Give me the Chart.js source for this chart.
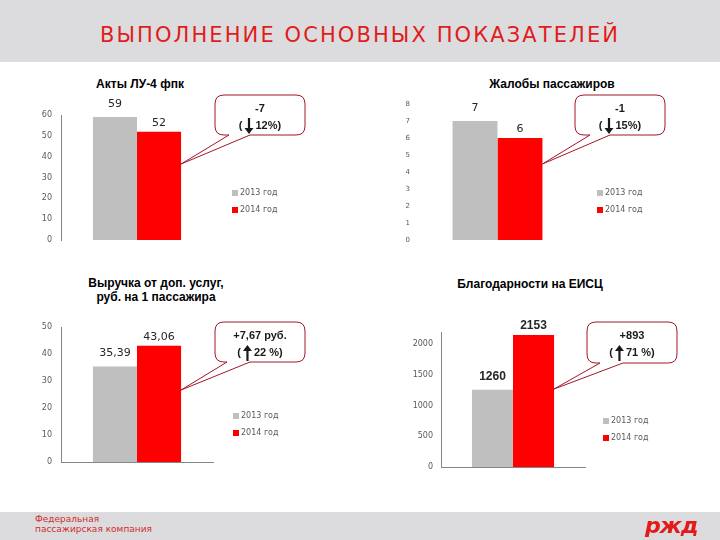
<!DOCTYPE html>
<html lang="ru">
<head>
<meta charset="utf-8">
<title>Выполнение основных показателей</title>
<script src="https://cdn.jsdelivr.net/npm/chart.js@4.4.1/dist/chart.umd.min.js"></script>
<style>
  html, body { margin: 0; padding: 0; }
  body { width: 720px; height: 540px; position: relative; overflow: hidden; background: #fff; font-family: 'DejaVu Sans', sans-serif; }
  .head { position: absolute; left: 0; top: 0; width: 720px; height: 62px; background: #dcdcde; }
  .head h1 { margin: 0; position: absolute; left: 0; width: 720px; top: 23px; text-align: center; font-weight: normal; font-size: 21px; letter-spacing: 2.1px; color: #e01c1c; }
  .foot { position: absolute; left: 0; top: 512px; width: 720px; height: 28px; background: #dcdcde; }
  .foot .org { position: absolute; left: 35px; top: 2px; font-size: 9px; line-height: 10px; color: #d42b2b; }
  .foot .logo { position: absolute; left: 645px; top: 1px; font-size: 22px; font-weight: bold; font-style: italic; color: #e21a1a; letter-spacing: -1px; }
  .cell { position: absolute; }
  .ttl { position: absolute; width: 240px; margin-left: -120px; text-align: center; font: bold 12px/14px 'Liberation Sans', Arial, sans-serif; color: #000; }
  .lgd { position: absolute; font-size: 8px; color: #595959; }
  .lgd div { height: 17px; display: flex; align-items: center; white-space: nowrap; }
  .lgd span { display: inline-block; width: 6px; height: 6px; margin-right: 2px; }
</style>
</head>
<body>
<div class="head"><h1>ВЫПОЛНЕНИЕ ОСНОВНЫХ ПОКАЗАТЕЛЕЙ</h1></div>

<div class="ttl" id="t1" style="left:140px;top:77px"></div>
<div class="ttl" id="t2" style="left:552px;top:77px"></div>
<div class="ttl" id="t3" style="left:156px;top:276px"></div>
<div class="ttl" id="t4" style="left:530px;top:277px"></div>

<div class="cell" style="left:0;top:90px"><canvas id="c1" width="320" height="170"></canvas></div>
<div class="cell" style="left:360px;top:90px"><canvas id="c2" width="340" height="170"></canvas></div>
<div class="cell" style="left:0;top:300px"><canvas id="c3" width="320" height="180"></canvas></div>
<div class="cell" style="left:360px;top:300px"><canvas id="c4" width="340" height="180"></canvas></div>

<div class="lgd" id="l1" style="left:232px;top:184px"></div>
<div class="lgd" id="l2" style="left:597px;top:184px"></div>
<div class="lgd" id="l3" style="left:233px;top:407px"></div>
<div class="lgd" id="l4" style="left:603px;top:412px"></div>

<div class="foot">
  <div class="org">Федеральная<br>пассажирская компания</div>
  <div class="logo">ржд</div>
</div>

<script>
// данные
const years = ['2013 год', '2014 год'];

const aktyTitle = ['Акты ЛУ-4 фпк'];
const aktyValues = [59, 52];
const aktyTicks = [0, 10, 20, 30, 40, 50, 60];

const zhalobyTitle = ['Жалобы пассажиров'];
const zhalobyValues = [7, 6];
const zhalobyTicks = [0, 1, 2, 3, 4, 5, 6, 7, 8];

const vyruchkaTitle = ['Выручка от доп. услуг,', 'руб. на 1 пассажира'];
const vyruchkaValues = [35.39, 43.06];
const vyruchkaTicks = [0, 10, 20, 30, 40, 50];

const blagTitle = ['Благодарности на ЕИСЦ'];
const blagValues = [1260, 2153];
const blagTicks = [0, 500, 1000, 1500, 2000];

// подписи в выносках
const aktyNote = ['-7', '(', 'down', '12%)'];
const zhalobyNote = ['-1', '(', 'down', '15%)'];
const vyruchkaNote = ['+7,67 руб.', '(', 'up', '22 %)'];
const blagNote = ['+893', '(', 'up', '71 %)'];

const colors = ['#bfbfbf', '#ff0000'];

// подписи значений над столбцами
const valueLabels = {
  id: 'valueLabels',
  afterDatasetsDraw(chart, args, opts) {
    const ctx = chart.ctx;
    ctx.save();
    ctx.font = opts.font;
    ctx.fillStyle = '#262626';
    ctx.textAlign = 'center';
    ctx.textBaseline = 'middle';
    chart.data.datasets.forEach((ds, i) => {
      const el = chart.getDatasetMeta(i).data[0];
      ctx.fillText(opts.format(ds.data[0]), el.x, el.y - opts.offsets[i]);
    });
    ctx.restore();
  },
};

// выноска с изменением
const callout = {
  id: 'callout',
  afterDraw(chart, args, o) {
    const ctx = chart.ctx;
    const red = chart.getDatasetMeta(1).data[0];
    const tipX = red.x + red.width / 2;
    const { x, y, w, h } = o;
    const r = 9;
    ctx.save();
    ctx.beginPath();
    ctx.moveTo(x + r, y);
    ctx.lineTo(x + w - r, y);
    ctx.quadraticCurveTo(x + w, y, x + w, y + r);
    ctx.lineTo(x + w, y + h - r);
    ctx.quadraticCurveTo(x + w, y + h, x + w - r, y + h);
    ctx.lineTo(o.tail[1], y + h);
    ctx.lineTo(tipX, o.tipY);
    ctx.lineTo(o.tail[0], y + h);
    ctx.lineTo(x + r, y + h);
    ctx.quadraticCurveTo(x, y + h, x, y + h - r);
    ctx.lineTo(x, y + r);
    ctx.quadraticCurveTo(x, y, x + r, y);
    ctx.closePath();
    ctx.fillStyle = '#fff';
    ctx.fill();
    ctx.lineWidth = 1;
    ctx.strokeStyle = '#a3162a';
    ctx.stroke();

    const [line1, pre, dir, post] = o.text;
    const cx = x + w / 2;
    ctx.fillStyle = '#1a1a1a';
    ctx.strokeStyle = '#1a1a1a';
    ctx.font = 'bold 11px "Liberation Sans", Arial, sans-serif';
    ctx.textBaseline = 'middle';
    ctx.textAlign = 'center';
    ctx.fillText(line1, cx, y + 14);

    const arrowW = 9;
    const gap = 2;
    const wPre = ctx.measureText(pre).width;
    const wPost = ctx.measureText(post).width;
    const total = wPre + gap + arrowW + gap + wPost;
    const sx = cx - total / 2;
    const ly = y + 31;
    ctx.textAlign = 'left';
    ctx.fillText(pre, sx, ly);
    const ax = sx + wPre + gap + arrowW / 2;
    const top = ly - 8, bot = ly + 8;
    ctx.lineWidth = 2.2;
    ctx.beginPath();
    if (dir === 'down') {
      ctx.moveTo(ax, top);
      ctx.lineTo(ax, bot - 5);
    } else {
      ctx.moveTo(ax, top + 5);
      ctx.lineTo(ax, bot);
    }
    ctx.stroke();
    ctx.beginPath();
    if (dir === 'down') {
      ctx.moveTo(ax - arrowW / 2, bot - 6);
      ctx.lineTo(ax + arrowW / 2, bot - 6);
      ctx.lineTo(ax, bot);
    } else {
      ctx.moveTo(ax - arrowW / 2, top + 6);
      ctx.lineTo(ax + arrowW / 2, top + 6);
      ctx.lineTo(ax, top);
    }
    ctx.closePath();
    ctx.fill();
    ctx.fillText(post, sx + wPre + gap + arrowW + gap, ly);
    ctx.restore();
  },
};

// html-легенда и заголовок из данных графика
const renderLegend = (chart, el) => {
  el.innerHTML = chart.data.datasets
    .map((ds) => `<div><span style="background:${ds.backgroundColor}"></span>${ds.label}</div>`)
    .join('');
};

const makeChart = (id, cfg) => {
  const chart = new Chart(document.getElementById('c' + id), {
    type: 'bar',
    data: {
      labels: [''],
      datasets: years.map((label, i) => ({
        label,
        data: [cfg.values[i]],
        backgroundColor: colors[i],
        barPercentage: 1,
        categoryPercentage: cfg.catPct,
      })),
    },
    options: {
      responsive: false,
      animation: false,
      events: [],
      layout: { padding: cfg.pad },
      scales: {
        x: {
          grid: { display: false, drawTicks: false },
          ticks: { display: false },
          border: { display: cfg.xLine, color: '#868686' },
          afterFit: (s) => {
            s.height = 0;
            s.paddingLeft = 0;
            s.paddingRight = 0;
          },
        },
        y: {
          min: 0,
          max: cfg.max,
          afterBuildTicks: (s) => {
            s.ticks = cfg.ticks.map((v) => ({ value: v }));
          },
          afterFit: (s) => {
            s.width = cfg.yW;
            s.paddingTop = 0;
            s.paddingBottom = 0;
          },
          grid: { display: false, drawTicks: false },
          border: { display: cfg.yLine, color: '#868686' },
          ticks: {
            padding: cfg.tickPad,
            color: '#595959',
            font: { family: 'DejaVu Sans', size: cfg.tickSize },
            callback: (v) => String(v),
          },
        },
      },
      plugins: {
        legend: { display: false },
        title: { display: false },
        tooltip: { enabled: false },
        valueLabels: { font: cfg.valueFont, format: cfg.format, offsets: [13, 9] },
        callout: cfg.callout,
      },
    },
    plugins: [valueLabels, callout],
  });
  document.getElementById('t' + id).innerHTML = cfg.title.join('<br>');
  renderLegend(chart, document.getElementById('l' + id));
  return chart;
};

const plainFont = '11px "DejaVu Sans", sans-serif';
const boldFont = 'bold 12px "Liberation Sans", Arial, sans-serif';

makeChart(1, {
  title: aktyTitle, values: aktyValues, ticks: aktyTicks, max: 60,
  catPct: 0.58, yW: 61, tickPad: 9, tickSize: 8, yLine: true, xLine: false,
  pad: { left: 0, right: 107, top: 25, bottom: 20 },
  valueFont: plainFont, format: (v) => String(v),
  callout: { x: 215, y: 5, w: 90, h: 40, tail: [229, 250], tipY: 74, text: aktyNote },
});

makeChart(2, {
  title: zhalobyTitle, values: zhalobyValues, ticks: zhalobyTicks, max: 8,
  catPct: 0.58, yW: 60, tickPad: 10, tickSize: 7, yLine: false, xLine: false,
  pad: { left: 0, right: 125, top: 14, bottom: 20 },
  valueFont: plainFont, format: (v) => String(v),
  callout: { x: 215, y: 5, w: 90, h: 40, tail: [230, 250], tipY: 74, text: zhalobyNote },
});

makeChart(3, {
  title: vyruchkaTitle, values: vyruchkaValues, ticks: vyruchkaTicks, max: 50,
  catPct: 0.58, yW: 61, tickPad: 9, tickSize: 8, yLine: true, xLine: true,
  pad: { left: 0, right: 107, top: 27, bottom: 18 },
  valueFont: plainFont, format: (v) => v.toFixed(2).replace('.', ','),
  callout: { x: 215, y: 22, w: 90, h: 40, tail: [227, 250], tipY: 90, text: vyruchkaNote },
});

makeChart(4, {
  title: blagTitle, values: blagValues, ticks: blagTicks, max: 2200,
  catPct: 0.57, yW: 81, tickPad: 8, tickSize: 8, yLine: true, xLine: true,
  pad: { left: 0, right: 115, top: 32, bottom: 13 },
  valueFont: boldFont, format: (v) => String(v),
  callout: { x: 227, y: 22, w: 90, h: 41, tail: [240, 263], tipY: 89, text: blagNote },
});
</script>
</body>
</html>
